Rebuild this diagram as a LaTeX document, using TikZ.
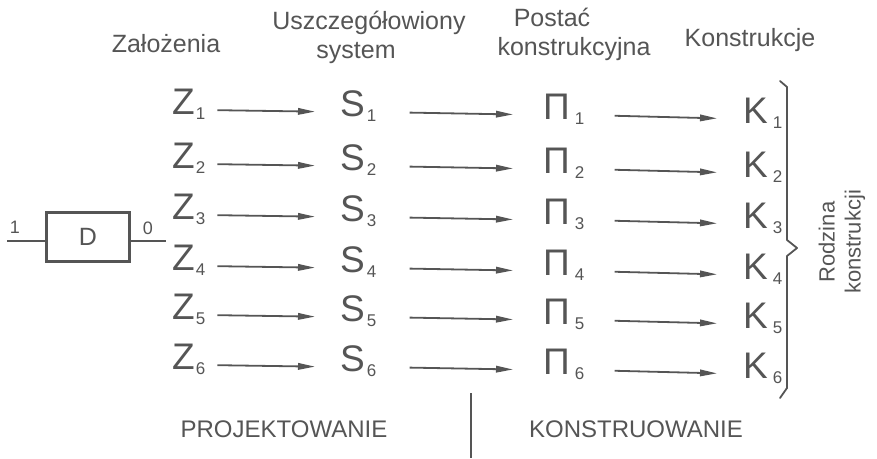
\documentclass[tikz,border=0pt]{standalone}
\usepackage{fontspec}
\setmainfont{Liberation Sans}
\usetikzlibrary{arrows.meta}
\definecolor{ink}{RGB}{85,85,85}
\newcommand{\sbx}[2][1pt]{\hspace{#1}\raisebox{-5pt}{\fontsize{17}{17}\selectfont #2}}
\tikzset{
  head/.style={font=\fontsize{25}{29}\selectfont, text=ink, inner sep=0pt, anchor=base},
  big/.style={font=\fontsize{37}{40}\selectfont, text=ink, inner sep=0pt, anchor=base west},
  arr/.style={draw=ink, line width=1.8pt, -{Triangle[length=17pt,width=6.5pt]}},
  ln/.style={draw=ink, line width=1.8pt},
  foot/.style={font=\fontsize{24}{28}\selectfont, text=ink, inner sep=0pt, anchor=base},
}
\begin{document}
\begin{tikzpicture}[x=1pt,y=-1pt]
\useasboundingbox (0,0) rectangle (877,458);
% headers
\node[head] (h1) at (166,52) {Założenia};
\node[head] (h2a) at (369,29) {Uszczegółowiony};
\node[head] (h2b) at (356,58) {system};
\node[head] (h3a) at (552,26) {Postać};
\node[head] (h3b) at (574,55) {konstrukcyjna};
\node[head] (h4) at (750,46) {Konstrukcje};
% rows
\foreach \i/\y in {1/114,2/168,3/219,4/270,5/319,6/369}{
  \node[big] (z\i) at (172,\y) {Z\sbx{\i}};
  \node[big] (s\i) at (340,\y+2) {S\sbx[2pt]{\i}};
  \node[big] (p\i) at (543,\y+5) {Π\sbx[5pt]{\i}};
  \node[big] (k\i) at (743,\y+9) {K\sbx[5pt]{\i}};
  \draw[arr, shorten <=12pt, shorten >=25pt] ([yshift=4pt]z\i.base east) -- ([yshift=4pt]s\i.base west);
  \draw[arr, shorten <=33pt, shorten >=30pt] ([yshift=4pt]s\i.base east) -- ([yshift=4pt]p\i.base west);
  \draw[arr, shorten <=30pt, shorten >=26pt] ([yshift=4pt]p\i.base east) -- ([yshift=4pt]k\i.base west);
}
% D block
\node[draw=ink, line width=2.2pt, minimum width=83pt, minimum height=49pt, inner sep=0pt,
      font=\fontsize{25}{29}\selectfont, text=ink] (d) at (88,237) {D};
\coordinate (in) at (7,241);
\coordinate (out) at (166,241);
\draw[ln] (in) -- ([yshift=-4pt]d.west);
\draw[ln, line width=1.4pt] ([yshift=-4pt]d.east) -- (out);
\node[font=\fontsize{18}{20}\selectfont, text=ink, inner sep=0pt] (l1) at (15,227) {1};
\node[font=\fontsize{18}{20}\selectfont, text=ink, inner sep=0pt] (l0) at (148,228) {0};
% brace
\draw[ln, line join=round, line cap=round] (780,81) -- (787,87) -- (787,240) -- (797,248) -- (787,256) -- (787,388) -- (780,398);
\node[font=\fontsize{22}{26}\selectfont, text=ink, rotate=90, align=center, inner sep=0pt] (fam) at (842,242) {Rodzina\\konstrukcji};
% bottom
\node[foot] (proj) at (284,437) {PROJEKTOWANIE};
\node[foot] (kons) at (636,437) {KONSTRUOWANIE};
\coordinate (bt) at (471,393);
\coordinate (bb) at (471,458);
\draw[ln] (bt) -- (bb);
\end{tikzpicture}
\end{document}
